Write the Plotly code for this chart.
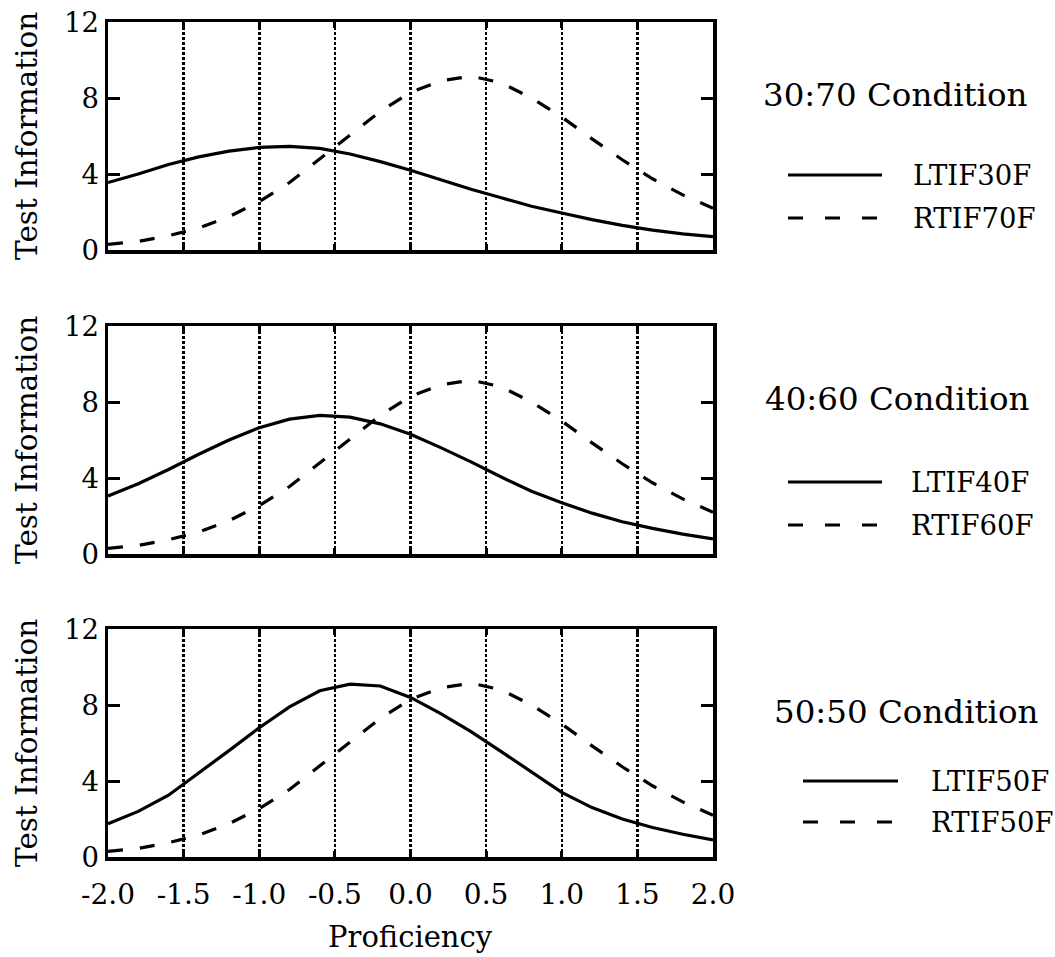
import plotly.graph_objects as go
from plotly.subplots import make_subplots

# ---------------- data ----------------
proficiency = [-2.0, -1.8, -1.6, -1.4, -1.2, -1.0, -0.8, -0.6, -0.4, -0.2, 0.0,
               0.2, 0.4, 0.6, 0.8, 1.0, 1.2, 1.4, 1.6, 1.8, 2.0]

ltif30f = [3.55, 4.0, 4.5, 4.9, 5.2, 5.4, 5.45, 5.35, 5.05, 4.65, 4.2,
           3.7, 3.2, 2.75, 2.3, 1.95, 1.6, 1.3, 1.05, 0.85, 0.7]
rtif70f = [0.3, 0.45, 0.75, 1.15, 1.75, 2.55, 3.55, 4.8, 6.1, 7.3, 8.3,
           8.9, 9.15, 8.8, 8.0, 7.0, 5.85, 4.75, 3.75, 2.9, 2.2]

ltif40f = [3.05, 3.7, 4.45, 5.25, 6.0, 6.65, 7.1, 7.3, 7.2, 6.85, 6.3,
           5.6, 4.85, 4.05, 3.3, 2.7, 2.15, 1.7, 1.35, 1.05, 0.8]
rtif60f = [0.3, 0.45, 0.75, 1.15, 1.75, 2.55, 3.55, 4.8, 6.1, 7.3, 8.3,
           8.9, 9.15, 8.8, 8.0, 7.0, 5.85, 4.75, 3.75, 2.9, 2.2]

ltif50f = [1.75, 2.4, 3.25, 4.4, 5.6, 6.8, 7.9, 8.75, 9.1, 9.0, 8.4,
           7.55, 6.6, 5.55, 4.45, 3.4, 2.6, 2.0, 1.55, 1.2, 0.9]
rtif50f = [0.3, 0.45, 0.75, 1.15, 1.75, 2.55, 3.55, 4.8, 6.1, 7.3, 8.3,
           8.9, 9.15, 8.8, 8.0, 7.0, 5.85, 4.75, 3.75, 2.9, 2.2]

conditions = ["30:70 Condition", "40:60 Condition", "50:50 Condition"]
solid_names = ["LTIF30F", "LTIF40F", "LTIF50F"]
dashed_names = ["RTIF70F", "RTIF60F", "RTIF50F"]
solid_series = [ltif30f, ltif40f, ltif50f]
dashed_series = [rtif70f, rtif60f, rtif50f]

y_tick_vals = [0, 4, 8, 12]
x_tick_vals = [-2.0, -1.5, -1.0, -0.5, 0.0, 0.5, 1.0, 1.5, 2.0]
x_tick_text = ["-2.0", "-1.5", "-1.0", "-0.5", "0.0", "0.5", "1.0", "1.5", "2.0"]
x_title = "Proficiency"
y_title = "Test Information"

# ---------------- layout geometry (window pixels) ----------------
W, H = 1055, 957
PLOT_L, PLOT_R, PLOT_T, PLOT_B = 108, 713, 22, 857
L, R, T, B = PLOT_L, W - PLOT_R, PLOT_T, H - PLOT_B
PW, PH = PLOT_R - PLOT_L, PLOT_B - PLOT_T
panels_px = [(22, 250), (326, 554), (629, 857)]

def xp(px):
    return (px - PLOT_L) / PW

def yp(py):
    return (PLOT_B - py) / PH

FONT = "DejaVu Serif"

fig = make_subplots(rows=3, cols=1)

for i in range(3):
    r = i + 1
    fig.add_trace(go.Scatter(x=proficiency, y=solid_series[i], mode="lines",
                             name=solid_names[i], hoverinfo="skip",
                             line=dict(color="black", width=3.2)), row=r, col=1)
    fig.add_trace(go.Scatter(x=proficiency, y=dashed_series[i], mode="lines",
                             name=dashed_names[i], hoverinfo="skip",
                             line=dict(color="black", width=3.2, dash="15px,17px")),
                  row=r, col=1)

axis_common = dict(showline=True, linecolor="black", linewidth=3.5, mirror="ticks",
                   zeroline=False, ticks="inside", tickcolor="black", automargin=False,
                   ticklabeloverflow="allow")

for i in range(3):
    top, bot = panels_px[i]
    sfx = "" if i == 0 else str(i + 1)
    fig.layout["yaxis" + sfx].update(
        domain=[yp(bot), yp(top)], range=[0, 12], tickvals=y_tick_vals,
        ticklen=12, tickwidth=3, showgrid=False,
        tickfont=dict(family=FONT, size=27.5, color="black"), **axis_common)
    fig.layout["xaxis" + sfx].update(
        range=[-2, 2], tickvals=x_tick_vals, ticktext=x_tick_text,
        ticklen=6, tickwidth=3, showgrid=True, gridcolor="black",
        gridwidth=2.5, griddash="2.5px,2.5px",
        showticklabels=(i == 2), ticklabelstandoff=10,
        tickfont=dict(family=FONT, size=28, color="black"), **axis_common)

annotations = []
shapes = []

# y-axis titles
for top, bot in panels_px:
    annotations.append(dict(xref="paper", yref="paper", x=xp(27), y=yp((top + bot) / 2),
                            text=y_title, textangle=-90, showarrow=False,
                            xanchor="center", yanchor="middle",
                            font=dict(family=FONT, size=29.5, color="black")))

# x-axis title
annotations.append(dict(xref="paper", yref="paper", x=xp(410.5), y=yp(937),
                        text=x_title, showarrow=False, xanchor="center", yanchor="middle",
                        font=dict(family=FONT, size=29, color="black")))

# legend blocks (title center, line x-range, label left, solid y, dashed y)
legend_px = [
    dict(tc=(895, 95), lx=(788, 882), tx=911, ys=175, yd=218),
    dict(tc=(897, 399), lx=(788, 882), tx=909, ys=482, yd=525),
    dict(tc=(906, 712), lx=(803, 898), tx=929, ys=781, yd=822),
]
for i, lg in enumerate(legend_px):
    annotations.append(dict(xref="paper", yref="paper", x=xp(lg["tc"][0]), y=yp(lg["tc"][1]),
                            text=conditions[i], showarrow=False, xanchor="center",
                            yanchor="middle",
                            font=dict(family=FONT, size=32.5, color="black")))
    for name, yy, dash in [(solid_names[i], lg["ys"], "solid"),
                           (dashed_names[i], lg["yd"], "15px,22px")]:
        shapes.append(dict(type="line", xref="paper", yref="paper",
                           x0=xp(lg["lx"][0]), x1=xp(lg["lx"][1]), y0=yp(yy), y1=yp(yy),
                           line=dict(color="black", width=3.2, dash=dash)))
        annotations.append(dict(xref="paper", yref="paper", x=xp(lg["tx"]), y=yp(yy),
                                text=name, showarrow=False, xanchor="left",
                                yanchor="middle",
                                font=dict(family=FONT, size=27.5, color="black")))

fig.update_layout(width=W, height=H, margin=dict(l=L, r=R, t=T, b=B, autoexpand=False),
                  paper_bgcolor="white", plot_bgcolor="white", showlegend=False,
                  hovermode=False,
                  annotations=annotations, shapes=shapes,
                  font=dict(family=FONT, color="black"))

fig.write_html("out.html",
               config={"displayModeBar": False, "staticPlot": True},
               post_script="document.body.style.margin='0';"
                           "document.body.style.overflow='hidden';")
